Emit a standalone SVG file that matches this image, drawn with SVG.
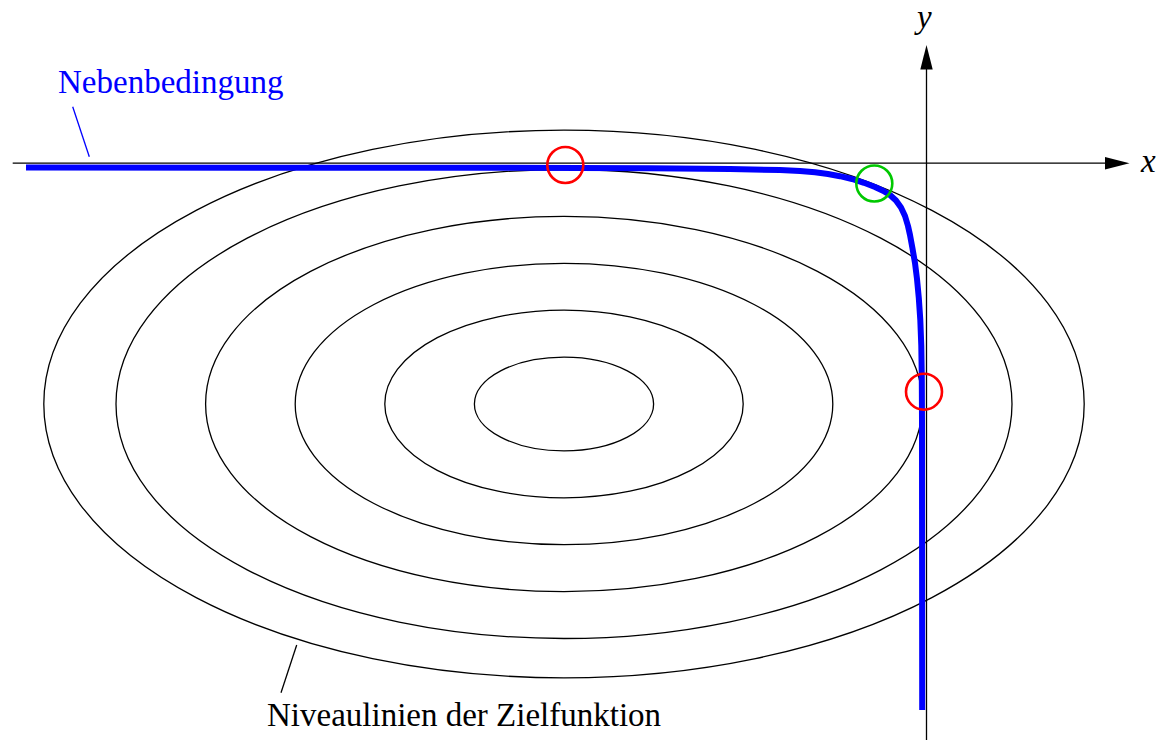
<svg xmlns="http://www.w3.org/2000/svg" width="1160" height="740" viewBox="0 0 1160 740">
  <style>
    .lvl { fill: none; stroke: #000; stroke-width: 1.3; }
    .axis { fill: none; stroke: #000; stroke-width: 1.3; }
    .con { fill: none; stroke: #0000ff; stroke-width: 6; stroke-linejoin: round; stroke-linecap: butt; }
    .mark { fill: none; stroke-width: 2.6; }
    .lbl { font-family: "Liberation Serif", "DejaVu Serif", serif; font-size: 33px; }
    .var { font-family: "Liberation Serif", "DejaVu Serif", serif; font-size: 33px; font-style: italic; }
  </style>
  <rect width="1160" height="740" fill="#fff"/>
  <g id="levels">
    <ellipse class="lvl" cx="564" cy="404" rx="89.6" ry="46.9"/>
    <ellipse class="lvl" cx="564" cy="404" rx="179.2" ry="93.8"/>
    <ellipse class="lvl" cx="564" cy="404" rx="268.8" ry="140.7"/>
    <ellipse class="lvl" cx="564" cy="404" rx="358.4" ry="187.6"/>
    <ellipse class="lvl" cx="564" cy="404" rx="448" ry="234.5"/>
    <ellipse class="lvl" cx="564" cy="404" rx="520.2" ry="273.8"/>
  </g>
  <g id="axes">
    <line class="axis" x1="12.7" y1="163.2" x2="1108" y2="163.2"/>
    <polygon points="1129.5,163.2 1105,157 1105,169.4" fill="#000"/>
    <line class="axis" x1="926.5" y1="740" x2="926.5" y2="66"/>
    <polygon points="926.5,45 920.3,69.5 932.7,69.5" fill="#000"/>
    <text class="var" x="1141" y="172">x</text>
    <text class="var" x="917" y="28">y</text>
  </g>
  <g id="constraint">
    <path class="con" d="M26,167.5 L500,167.8 L650,168.3 L730,169 L780,170 L800,171 L815,172.3 L828,174 L840,176.2 L852,179 L864,182.8 L875,187 L883,190.8 L890,195 L896,200.5 L901,207.5 L905,216 L908,226 L910,235 L912.5,248.5 L915,263 L917,279 L918.8,298 L920.3,320 L921.3,346 L921.8,378 L922,420 L922.2,710"/>
  </g>
  <g id="markers">
    <circle class="mark" cx="565.3" cy="165" r="18" stroke="#ff0000"/>
    <circle class="mark" cx="874.3" cy="183.5" r="18" stroke="#00c800"/>
    <circle class="mark" cx="924" cy="391.7" r="18" stroke="#ff0000"/>
  </g>
  <g id="labels">
    <line x1="72.7" y1="106.7" x2="89.3" y2="156.7" stroke="#0000ff" stroke-width="1.3"/>
    <text class="lbl" x="58" y="93" fill="#0000ff">Nebenbedingung</text>
    <line x1="296.7" y1="645" x2="281" y2="692.7" stroke="#000" stroke-width="1.3"/>
    <text class="lbl" x="267" y="726" fill="#000">Niveaulinien der Zielfunktion</text>
  </g>
</svg>
